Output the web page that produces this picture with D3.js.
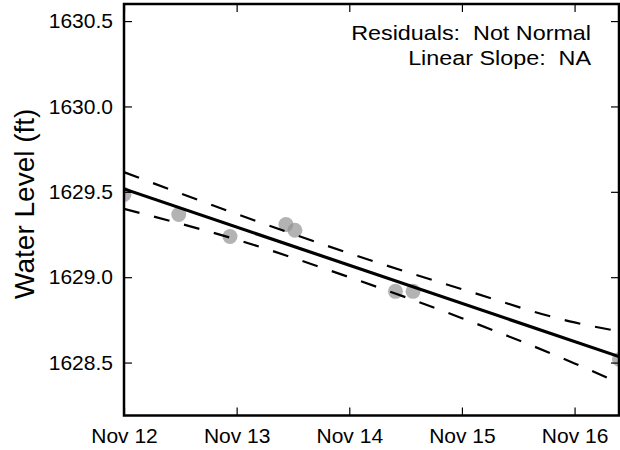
<!DOCTYPE html>
<html><head><meta charset="utf-8">
<script src="https://cdn.jsdelivr.net/npm/d3@7"></script>
<style>body{margin:0;background:#fff}svg{display:block}text{font-family:"Liberation Sans",Arial,sans-serif;white-space:pre}</style>
</head><body>
<script>
// Observations
const obsTimes = ["2015-11-12T00:00","2015-11-12T11:40","2015-11-12T22:35","2015-11-13T10:30","2015-11-13T12:25","2015-11-14T09:50","2015-11-14T13:35","2015-11-16T09:35"];
const obsLevels = [1629.485,1629.367,1629.238,1629.308,1629.275,1628.917,1628.917,1628.518];
// Fitted trend and confidence band
const fitTimes = ["2015-11-12T00:00","2015-11-16T09:28"];
const fitLevels = [1629.517,1628.535];
const bandTimes = ["2015-11-12T00:00","2015-11-13T00:00","2015-11-14T00:00","2015-11-15T00:00","2015-11-16T00:00","2015-11-16T09:28"];
const bandUpper = [1629.615,1629.37,1629.14,1628.93,1628.735,1628.683];
const bandLower = [1629.40,1629.22,1629.00,1628.76,1628.495,1628.38];
const yTicks = [1628.5,1629.0,1629.5,1630.0,1630.5];
const xTickDates = ["2015-11-12","2015-11-13","2015-11-14","2015-11-15","2015-11-16"];
const xTickLabels = ["Nov 12","Nov 13","Nov 14","Nov 15","Nov 16"];
const yLabel = "Water Level (ft)";
const notes = ["Residuals:  Not Normal","Linear Slope:  NA"];

const W=620,H=450, L=124, R=619, T=4, B=415.5;
const parse = d3.timeParse("%Y-%m-%dT%H:%M");
const parseD = d3.timeParse("%Y-%m-%d");
const x = d3.scaleTime().domain([parse(fitTimes[0]), parse(fitTimes[1])]).range([L,R]);
const y = d3.scaleLinear().domain([1628.19,1630.60]).range([B,T]);

const svg = d3.select("body").append("svg").attr("width",W).attr("height",H);
svg.append("defs").append("clipPath").attr("id","clip").append("rect")
  .attr("x",L).attr("y",T).attr("width",R-L).attr("height",B-T);
const g = svg.append("g").attr("clip-path","url(#clip)");

const obs = obsTimes.map((t,i)=>({t:parse(t),v:obsLevels[i]}));
g.selectAll("circle").data(obs).enter().append("circle")
  .attr("cx",d=>x(d.t)).attr("cy",d=>y(d.v)).attr("r",7.5)
  .attr("fill","#939393").attr("fill-opacity",0.7);

const line = d3.line().x(d=>x(d.t)).y(d=>y(d.v));
const fit = fitTimes.map((t,i)=>({t:parse(t),v:fitLevels[i]}));
g.append("path").attr("d",line(fit)).attr("fill","none").attr("stroke","#000").attr("stroke-width",3.2);
const lineC = d3.line().x(d=>x(d.t)).y(d=>y(d.v)).curve(d3.curveMonotoneX);
[bandUpper,bandLower].forEach(arr=>{
  const pts = bandTimes.map((t,i)=>({t:parse(t),v:arr[i]}));
  g.append("path").attr("d",lineC(pts)).attr("fill","none").attr("stroke","#000")
   .attr("stroke-width",2.2).attr("stroke-dasharray","16,15");
});

// axes with inside ticks
const tickLen = 8;
const xt = xTickDates.map(parseD);
const axB = d3.axisBottom(x).tickValues(xt).tickSizeInner(-tickLen).tickSizeOuter(0).tickPadding(13)
  .tickFormat((d,i)=>xTickLabels[i]);
const gb = svg.append("g").attr("transform",`translate(0,${B})`).call(axB);
const axT = d3.axisTop(x).tickValues(xt).tickSizeInner(-tickLen).tickSizeOuter(0).tickFormat("");
const gt = svg.append("g").attr("transform",`translate(0,${T})`).call(axT);
const axL = d3.axisLeft(y).tickValues(yTicks).tickSizeInner(-tickLen).tickSizeOuter(0).tickPadding(11)
  .tickFormat(d3.format(".1f"));
const gl = svg.append("g").attr("transform",`translate(${L},0)`).call(axL);
const axR = d3.axisRight(y).tickValues(yTicks).tickSizeInner(-tickLen).tickSizeOuter(0).tickFormat("");
const gr = svg.append("g").attr("transform",`translate(${R},0)`).call(axR);
[gb,gt,gl,gr].forEach(a=>{
  a.select(".domain").remove();
  a.selectAll(".tick line").attr("stroke","#000").attr("stroke-width",1.2);
  a.selectAll(".tick text").attr("font-size",21).attr("fill","#000")
    .attr("font-family",'"Liberation Sans",Arial,sans-serif');
});
// frame
svg.append("rect").attr("x",L).attr("y",T).attr("width",R-L).attr("height",B-T)
  .attr("fill","none").attr("stroke","#000").attr("stroke-width",2.5);

svg.append("text").attr("transform",`translate(34,${(T+B)/2-6}) rotate(-90)`)
  .attr("text-anchor","middle").attr("font-size",28).attr("fill","#000").text(yLabel);

const noteW = [240,183];
svg.append("g").selectAll("text").data(notes).enter().append("text")
  .attr("font-size",21).attr("fill","#000").attr("text-anchor","end").text(d=>d)
  .each(function(d,i){
    const nat = this.getComputedTextLength();
    const s = noteW[i]/nat;
    d3.select(this).attr("transform",`translate(591,${40+i*25}) scale(${s},1)`);
  });
</script>
</body></html>
